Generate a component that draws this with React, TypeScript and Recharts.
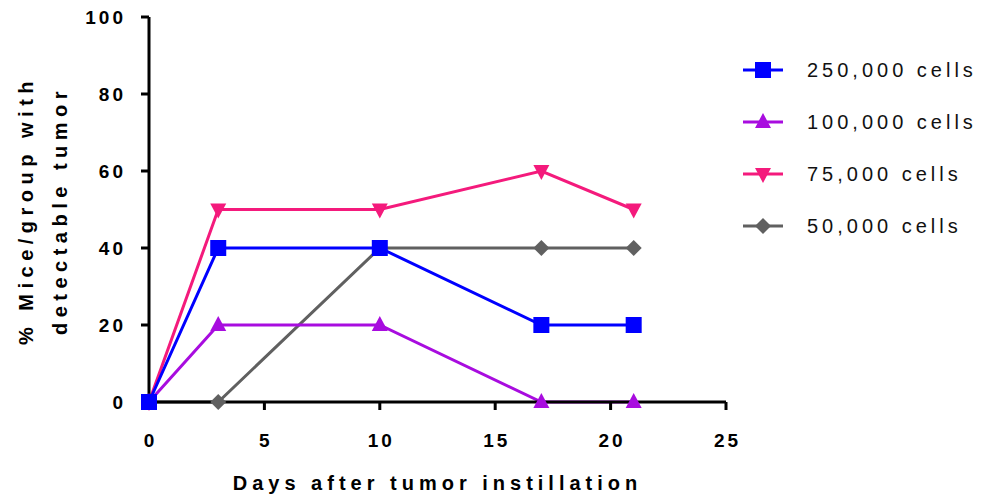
import { LineChart, Line, XAxis, YAxis } from "recharts";

const days = [0, 3, 10, 17, 21];
const cells250k = [0, 40, 40, 20, 20];
const cells100k = [0, 20, 20, 0, 0];
const cells75k = [0, 50, 50, 60, 50];
const cells50k = [0, 0, 40, 40, 40];

const xTicks = [0, 5, 10, 15, 20, 25];
const yTicks = [0, 20, 40, 60, 80, 100];

const series = [
  { key: "c250", name: "250,000 cells", color: "#0000FF", shape: "square", values: cells250k },
  { key: "c100", name: "100,000 cells", color: "#A80CDF", shape: "up", values: cells100k },
  { key: "c75", name: "75,000 cells", color: "#F41A7C", shape: "down", values: cells75k },
  { key: "c50", name: "50,000 cells", color: "#606060", shape: "diamond", values: cells50k },
];

const data = days.map((day, i) => {
  const row: Record<string, number> = { day };
  series.forEach((s) => {
    row[s.key] = s.values[i];
  });
  return row;
});

const FONT = '"Liberation Sans", Arial, Helvetica, sans-serif';

function Marker({ shape, cx, cy, color }: { shape: string; cx: number; cy: number; color: string }) {
  if (shape === "square") {
    return <rect x={cx - 8} y={cy - 8} width={16} height={16} fill={color} />;
  }
  if (shape === "up") {
    return <polygon points={`${cx},${cy - 9} ${cx + 8},${cy + 6} ${cx - 8},${cy + 6}`} fill={color} />;
  }
  if (shape === "down") {
    return <polygon points={`${cx},${cy + 9} ${cx + 8},${cy - 6} ${cx - 8},${cy - 6}`} fill={color} />;
  }
  return <polygon points={`${cx},${cy - 8} ${cx + 8},${cy} ${cx},${cy + 8} ${cx - 8},${cy}`} fill={color} />;
}

const XTick = ({ x, y, payload }: any) => (
  <text
    x={x + 1.5}
    y={y + 35}
    textAnchor="middle"
    fontFamily={FONT}
    fontWeight="bold"
    fontSize={19}
    letterSpacing={3}
    fill="#000"
  >
    {payload.value}
  </text>
);

const YTick = ({ x, y, payload }: any) => (
  <text
    x={x - 13}
    y={y + 7}
    textAnchor="end"
    fontFamily={FONT}
    fontWeight="bold"
    fontSize={19}
    letterSpacing={3}
    fill="#000"
  >
    {payload.value}
  </text>
);

const XTitle = ({ viewBox }: any) => (
  <text
    x={viewBox.x + viewBox.width / 2}
    y={viewBox.y + 88}
    textAnchor="middle"
    fontFamily={FONT}
    fontWeight="bold"
    fontSize={20}
    letterSpacing={5}
    fill="#000"
  >
    Days after tumor instillation
  </text>
);

const YTitle = ({ viewBox }: any) => {
  const cy = viewBox.y + viewBox.height / 2 + 1;
  return (
    <g>
      <text
        x={33}
        y={cy}
        transform={`rotate(-90, 33, ${cy})`}
        textAnchor="middle"
        fontFamily={FONT}
        fontWeight="bold"
        fontSize={20}
        letterSpacing={5.5}
        fill="#000"
      >
        % Mice/group with
      </text>
      <text
        x={67}
        y={cy}
        transform={`rotate(-90, 67, ${cy})`}
        textAnchor="middle"
        fontFamily={FONT}
        fontWeight="bold"
        fontSize={20}
        letterSpacing={5.5}
        fill="#000"
      >
        detectable tumor
      </text>
    </g>
  );
};

function ChartLegend() {
  return (
    <div style={{ position: "absolute", left: 743, top: 44, fontFamily: FONT }}>
      {series.map((s) => (
        <div key={s.key} style={{ display: "flex", alignItems: "center", height: 52 }}>
          <svg width={40} height={20}>
            <line x1={0} y1={10} x2={40} y2={10} stroke={s.color} strokeWidth={3} />
            <Marker shape={s.shape} cx={20} cy={10} color={s.color} />
          </svg>
          <span style={{ marginLeft: 24, fontSize: 20, letterSpacing: 4, color: "#111" }}>{s.name}</span>
        </div>
      ))}
    </div>
  );
}

// drawn in reverse so the 250,000 series sits on top
const drawOrder = [...series].reverse();

export default function App() {
  return (
    <div style={{ position: "absolute", left: 0, top: 0, width: 990, height: 497, background: "#fff" }}>
      <LineChart width={990} height={497} data={data} margin={{ top: 17, right: 264, bottom: 65, left: 89 }}>
        <XAxis
          dataKey="day"
          type="number"
          domain={[0, 25]}
          ticks={xTicks}
          height={30}
          tickSize={8}
          stroke="#000"
          strokeWidth={3}
          axisLine={{ stroke: "#000", strokeWidth: 3 }}
          tickLine={{ stroke: "#000", strokeWidth: 3 }}
          tick={<XTick />}
          label={<XTitle />}
        />
        <YAxis
          type="number"
          domain={[0, 100]}
          ticks={yTicks}
          width={60}
          tickSize={8}
          stroke="#000"
          strokeWidth={3}
          axisLine={{ stroke: "#000", strokeWidth: 3 }}
          tickLine={{ stroke: "#000", strokeWidth: 3 }}
          tick={<YTick />}
          label={<YTitle />}
        />
        {drawOrder.map((s) => (
          <Line
            key={s.key}
            dataKey={s.key}
            name={s.name}
            stroke={s.color}
            strokeWidth={3}
            isAnimationActive={false}
            activeDot={false}
            dot={(p: any) => (
              <Marker key={`${s.key}-${p.index}`} shape={s.shape} cx={p.cx} cy={p.cy} color={s.color} />
            )}
          />
        ))}
      </LineChart>
      <ChartLegend />
    </div>
  );
}
